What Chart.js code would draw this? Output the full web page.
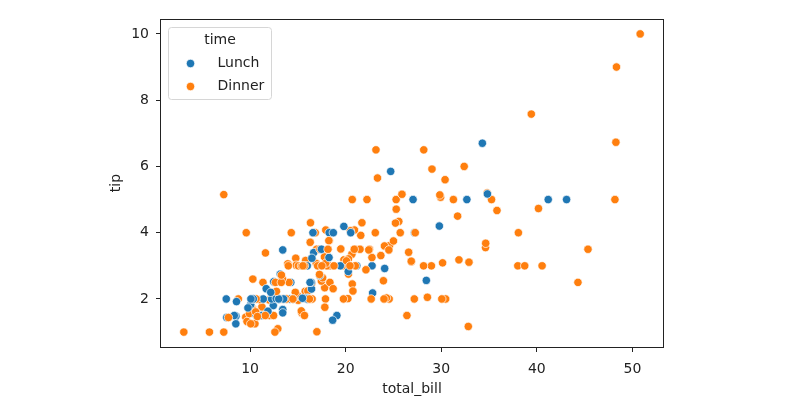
<!DOCTYPE html>
<html>
<head>
<meta charset="utf-8">
<script src="https://cdn.jsdelivr.net/npm/chart.js@4.4.1/dist/chart.umd.min.js"></script>
<style>
html,body{margin:0;padding:0;background:#ffffff;}
#wrap{width:806px;height:403px;position:relative;}
</style>
</head>
<body>
<div id="wrap"><canvas id="c" width="806" height="403"></canvas></div>
<script>
// ---- data (seaborn "tips": total_bill, tip, time) ----
const totalBill = [
16.99,10.34,21.01,23.68,24.59,25.29,8.77,26.88,15.04,14.78,
10.27,35.26,15.42,18.43,14.83,21.58,10.33,16.29,16.97,20.65,
17.92,20.29,15.77,39.42,19.82,17.81,13.37,12.69,21.70,19.65,
9.55,18.35,15.06,20.69,17.78,24.06,16.31,16.93,18.69,31.27,
16.04,17.46,13.94,9.68,30.40,18.29,22.23,32.40,28.55,18.04,
12.54,10.29,34.81,9.94,25.56,19.49,38.01,26.41,11.24,48.27,
20.29,13.81,11.02,18.29,17.59,20.08,16.45,3.07,20.23,15.01,
12.02,17.07,26.86,25.28,14.73,10.51,17.92,27.20,22.76,17.29,
19.44,16.66,10.07,32.68,15.98,34.83,13.03,18.28,24.71,21.16,
28.97,22.49,5.75,16.32,22.75,40.17,27.28,12.03,21.01,12.46,
11.35,15.38,44.30,22.42,20.92,15.36,20.49,25.21,18.24,14.31,
14.00,7.25,38.07,23.95,25.71,17.31,29.93,10.65,12.43,24.08,
11.69,13.42,14.26,15.95,12.48,29.80,8.52,14.52,11.38,22.82,
19.08,20.27,11.17,12.26,18.26,8.51,10.33,14.15,16.00,13.16,
17.47,34.30,41.19,27.05,16.43,8.35,18.64,11.87,9.78,7.51,
14.07,13.13,17.26,24.55,19.77,29.85,48.17,25.00,13.39,16.49,
21.50,12.66,16.21,13.81,17.51,24.52,20.76,31.71,10.59,10.63,
50.81,15.81,7.25,31.85,16.82,32.90,17.89,14.48,9.60,34.63,
34.65,23.33,45.35,23.17,40.55,20.69,20.90,30.46,18.15,23.10,
15.69,19.81,28.44,15.48,16.58,7.56,10.34,43.11,13.00,13.51,
18.71,12.74,13.00,16.40,20.53,16.47,26.59,38.73,24.27,12.76,
30.06,25.89,48.33,13.27,28.17,12.90,28.15,11.59,7.74,30.14,
12.16,13.42,8.58,15.98,13.42,16.27,10.09,20.45,13.28,22.12,
24.01,15.69,11.61,10.77,15.53,10.07,12.60,32.83,35.83,29.03,
27.18,22.67,17.82,18.78
];
const tip = [
1.01,1.66,3.50,3.31,3.61,4.71,2.00,3.12,1.96,3.23,
1.71,5.00,1.57,3.00,3.02,3.92,1.67,3.71,3.50,3.35,
4.08,2.75,2.23,7.58,3.18,2.34,2.00,2.00,4.30,3.00,
1.45,2.50,3.00,2.45,3.27,3.60,2.00,3.07,2.31,5.00,
2.24,2.54,3.06,1.32,5.60,3.00,5.00,6.00,2.05,3.00,
2.50,2.60,5.20,1.56,4.34,3.51,3.00,1.50,1.76,6.73,
3.21,2.00,1.98,3.76,2.64,3.15,2.47,1.00,2.01,2.09,
1.97,3.00,3.14,5.00,2.20,1.25,3.08,4.00,3.00,2.71,
3.00,3.40,1.83,5.00,2.03,5.17,2.00,4.00,5.85,3.00,
3.00,3.50,1.00,4.30,3.25,4.73,4.00,1.50,3.00,1.50,
2.50,3.00,2.50,3.48,4.08,1.64,4.06,4.29,3.76,4.00,
3.00,1.00,4.00,2.55,4.00,3.50,5.07,1.50,1.80,2.92,
2.31,1.68,2.50,2.00,2.52,4.20,1.48,2.00,2.00,2.18,
1.50,2.83,1.50,2.00,3.25,1.25,2.00,2.00,2.00,2.75,
3.50,6.70,5.00,5.00,2.30,1.50,1.36,1.63,1.73,2.00,
2.50,2.00,2.74,2.00,2.00,5.14,5.00,3.75,2.61,2.00,
3.50,2.50,2.00,2.00,3.00,3.48,2.24,4.50,1.61,2.00,
10.00,3.16,5.15,3.18,4.00,3.11,2.00,2.00,4.00,3.55,
3.68,5.65,3.50,6.50,3.00,5.00,3.50,2.00,3.50,4.00,
1.50,4.19,2.56,2.02,4.00,1.44,2.00,5.00,2.00,2.00,
4.00,2.01,2.00,2.50,4.00,3.23,3.41,3.00,2.03,2.23,
2.00,5.16,9.00,2.50,6.50,1.10,3.00,1.50,1.44,3.09,
2.20,3.48,1.92,3.00,1.58,2.50,2.00,3.00,2.72,2.88,
2.00,3.00,3.39,1.47,3.00,1.25,1.00,1.17,4.67,5.92,
2.00,2.00,1.75,3.00
];
const time = [
'Dinner','Dinner','Dinner','Dinner','Dinner','Dinner','Dinner','Dinner','Dinner','Dinner',
'Dinner','Dinner','Dinner','Dinner','Dinner','Dinner','Dinner','Dinner','Dinner','Dinner',
'Dinner','Dinner','Dinner','Dinner','Dinner','Dinner','Dinner','Dinner','Dinner','Dinner',
'Dinner','Dinner','Dinner','Dinner','Dinner','Dinner','Dinner','Dinner','Dinner','Dinner',
'Dinner','Dinner','Dinner','Dinner','Dinner','Dinner','Dinner','Dinner','Dinner','Dinner',
'Dinner','Dinner','Dinner','Dinner','Dinner','Dinner','Dinner','Dinner','Dinner','Dinner',
'Dinner','Dinner','Dinner','Dinner','Dinner','Dinner','Dinner','Dinner','Dinner','Dinner',
'Dinner','Dinner','Dinner','Dinner','Dinner','Dinner','Dinner','Lunch','Lunch','Lunch',
'Lunch','Lunch','Lunch','Lunch','Lunch','Lunch','Lunch','Lunch','Lunch','Lunch',
'Dinner','Dinner','Dinner','Dinner','Dinner','Dinner','Dinner','Dinner','Dinner','Dinner',
'Dinner','Dinner','Dinner','Dinner','Dinner','Dinner','Dinner','Dinner','Dinner','Dinner',
'Dinner','Dinner','Dinner','Dinner','Dinner','Dinner','Dinner','Lunch','Lunch','Lunch',
'Lunch','Lunch','Lunch','Lunch','Lunch','Lunch','Lunch','Lunch','Lunch','Lunch',
'Lunch','Lunch','Lunch','Lunch','Lunch','Lunch','Lunch','Lunch','Lunch','Lunch',
'Lunch','Lunch','Lunch','Lunch','Lunch','Lunch','Lunch','Lunch','Lunch','Lunch',
'Dinner','Dinner','Dinner','Dinner','Dinner','Dinner','Dinner','Dinner','Dinner','Dinner',
'Dinner','Dinner','Dinner','Dinner','Dinner','Dinner','Dinner','Dinner','Dinner','Dinner',
'Dinner','Dinner','Dinner','Dinner','Dinner','Dinner','Dinner','Dinner','Dinner','Dinner',
'Dinner','Dinner','Dinner','Dinner','Dinner','Dinner','Dinner','Dinner','Dinner','Dinner',
'Dinner','Lunch','Lunch','Lunch','Lunch','Lunch','Lunch','Lunch','Lunch','Lunch',
'Lunch','Lunch','Lunch','Lunch','Lunch','Lunch','Dinner','Dinner','Dinner','Dinner',
'Dinner','Dinner','Dinner','Dinner','Dinner','Dinner','Dinner','Dinner','Dinner','Dinner',
'Lunch','Lunch','Lunch','Lunch','Lunch','Lunch','Lunch','Dinner','Dinner','Dinner',
'Dinner','Dinner','Dinner','Dinner','Dinner','Dinner','Dinner','Dinner','Dinner','Dinner',
'Dinner','Dinner','Dinner','Dinner'
];
const timeCategories = ['Lunch', 'Dinner'];
const xTicks = [10, 20, 30, 40, 50];
const yTicks = [2, 4, 6, 8, 10];
const xLabel = 'total_bill';
const yLabel = 'tip';
const legendTitle = 'time';

// ---- styling ----
const palette = { Lunch: '#1f77b4', Dinner: '#ff7f0e' };
const FONT = "'DejaVu Sans', sans-serif";
const INK = '#222222';

function paddedRange(arr) {
  const lo = Math.min(...arr), hi = Math.max(...arr), m = (hi - lo) * 0.05;
  return [lo - m, hi + m];
}
const [xMin, xMax] = paddedRange(totalBill);
const [yMin, yMax] = paddedRange(tip);

const framePlugin = {
  id: 'frame',
  afterDatasetsDraw(chart) {
    const a = chart.chartArea, ctx = chart.ctx;
    ctx.save();
    ctx.strokeStyle = INK;
    ctx.lineWidth = 1;
    const l = Math.round(a.left) - 0.5, t = Math.round(a.top) + 0.5;
    const r = Math.round(a.right) + 0.5, b = Math.round(a.bottom) + 0.5;
    ctx.strokeRect(l, t, r - l, b - t);
    ctx.restore();
  }
};

const legendPlugin = {
  id: 'timeLegend',
  afterDraw(chart) {
    const ctx = chart.ctx, a = chart.chartArea;
    const x0 = a.left + 7.5, y0 = a.top + 8.5, w = 103, h = 72, r = 3;
    ctx.save();
    ctx.beginPath();
    ctx.moveTo(x0 + r, y0);
    ctx.lineTo(x0 + w - r, y0);
    ctx.quadraticCurveTo(x0 + w, y0, x0 + w, y0 + r);
    ctx.lineTo(x0 + w, y0 + h - r);
    ctx.quadraticCurveTo(x0 + w, y0 + h, x0 + w - r, y0 + h);
    ctx.lineTo(x0 + r, y0 + h);
    ctx.quadraticCurveTo(x0, y0 + h, x0, y0 + h - r);
    ctx.lineTo(x0, y0 + r);
    ctx.quadraticCurveTo(x0, y0, x0 + r, y0);
    ctx.closePath();
    ctx.fillStyle = 'rgba(255,255,255,0.8)';
    ctx.fill();
    ctx.strokeStyle = '#d6d6d6';
    ctx.lineWidth = 1;
    ctx.stroke();

    ctx.font = '14px ' + FONT;
    ctx.fillStyle = INK;
    ctx.textBaseline = 'middle';
    ctx.textAlign = 'center';
    ctx.fillText(legendTitle, x0 + w / 2, y0 + 13);
    ctx.textAlign = 'left';
    timeCategories.forEach((cat, i) => {
      const cy = y0 + 36 + i * 23;
      ctx.beginPath();
      ctx.arc(x0 + 22, cy, 4.2, 0, Math.PI * 2);
      ctx.fillStyle = palette[cat];
      ctx.fill();
      ctx.strokeStyle = '#ffffff';
      ctx.lineWidth = 0.7;
      ctx.stroke();
      ctx.fillStyle = INK;
      ctx.fillText(cat, x0 + 49, cy);
    });
    ctx.restore();
  }
};

const axisFont = { family: FONT, size: 14 };

new Chart(document.getElementById('c'), {
  type: 'scatter',
  data: {
    datasets: [{
      label: 'tips',
      data: totalBill.map((x, i) => ({ x: x, y: tip[i] })),
      pointBackgroundColor: time.map(t => palette[t]),
      pointBorderColor: '#ffffff',
      pointBorderWidth: 0.7,
      pointRadius: 4.2,
      pointHoverRadius: 4.2
    }]
  },
  options: {
    responsive: false,
    animation: false,
    devicePixelRatio: 1,
    events: [],
    layout: { padding: { left: 100, right: 143, top: 19, bottom: 0 } },
    plugins: { legend: { display: false }, tooltip: { enabled: false } },
    scales: {
      x: {
        type: 'linear',
        min: xMin, max: xMax,
        afterBuildTicks: s => { s.ticks = xTicks.map(v => ({ value: v })); },
        afterFit: s => { s.height = 56; },
        grid: { display: true, drawOnChartArea: false, drawTicks: true, tickLength: 5, color: INK, lineWidth: 1 },
        border: { display: false },
        ticks: { font: axisFont, color: INK, padding: 9, maxRotation: 0, autoSkip: false },
        title: { display: true, text: xLabel, font: axisFont, color: INK, padding: { top: 0, bottom: 5 } }
      },
      y: {
        type: 'linear',
        min: yMin, max: yMax,
        afterBuildTicks: s => { s.ticks = yTicks.map(v => ({ value: v })); },
        afterFit: s => { s.width = 61; },
        grid: { display: true, drawOnChartArea: false, drawTicks: true, tickLength: 5, color: INK, lineWidth: 1 },
        border: { display: false },
        ticks: { font: axisFont, color: INK, padding: 7, autoSkip: false },
        title: { display: true, text: yLabel, font: axisFont, color: INK, padding: { top: 8, bottom: 0 } }
      }
    }
  },
  plugins: [framePlugin, legendPlugin]
});
</script>
</body>
</html>
